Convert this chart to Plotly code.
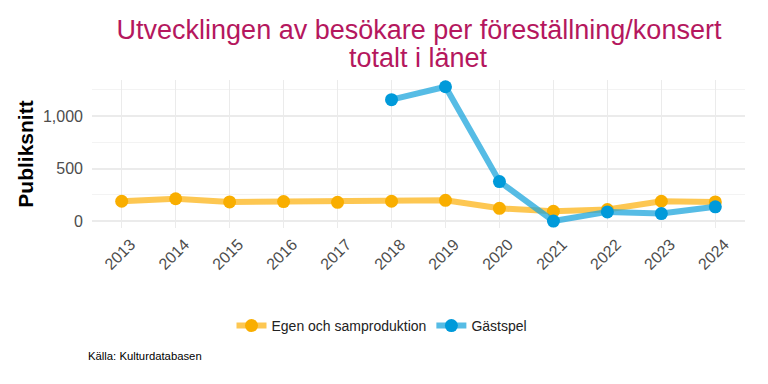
import plotly.graph_objects as go

years = [2013, 2014, 2015, 2016, 2017, 2018, 2019, 2020, 2021, 2022, 2023, 2024]
egen = [190, 214, 184, 187, 180, 190, 199, 123, 95, 111, 190, 184]
gast_years = [2018, 2019, 2020, 2021, 2022, 2023, 2024]
gast = [1155, 1278, 377, 2, 89, 73, 137]

FONT = "Liberation Sans, Arial, sans-serif"
# page is offset by the default 8px body margin; plot area lies at fig x 84..737, y 72..220
L, R, T, B = 84, 737, 72, 220
W, H = R - L, B - T

fig = go.Figure()
fig.add_trace(go.Scatter(x=years, y=egen, mode="lines+markers", name="Egen och samproduktion",
                         line=dict(color="rgba(253,185,39,0.8)", width=6),
                         marker=dict(color="#F9AE00", size=13)))
fig.add_trace(go.Scatter(x=gast_years, y=gast, mode="lines+markers", name="Gästspel",
                         line=dict(color="rgba(30,166,220,0.75)", width=6),
                         marker=dict(color="#009ADA", size=13)))

fig.update_layout(
    width=768, height=384,
    paper_bgcolor="white", plot_bgcolor="white",
    margin=dict(l=L, r=768 - R, t=T, b=384 - B, autoexpand=False),
    font=dict(family=FONT, color="#222"),
    title=dict(text="Utvecklingen av besökare per föreställning/konsert",
               x=411 / 768, xanchor="center", xref="container",
               y=1 - 21.5 / 384, yanchor="middle", yref="container",
               font=dict(size=27, color="#B5175E", family=FONT)),
    xaxis=dict(range=[2012.45, 2024.55], tickmode="array", tickvals=years,
               ticktext=[str(y) for y in years], tickangle=-45,
               showgrid=True, gridcolor="#EBEBEB", gridwidth=1, zeroline=False,
               tickfont=dict(size=16, color="#4D4D4D"), ticks="",
               ticklabelshift=9, ticklabelstandoff=3),
    yaxis=dict(range=[-64, 1342], tickvals=[0, 500, 1000], ticktext=["0", "500", "1,000"],
               showgrid=True, gridcolor="#EBEBEB", gridwidth=1.5, zeroline=False,
               minor=dict(tickvals=[250, 750, 1250], showgrid=True, gridcolor="#F3F3F3", gridwidth=1),
               tickfont=dict(size=16, color="#4D4D4D"), ticks="", ticklabelstandoff=8,
               title=dict(text="<b>Publiksnitt</b>", font=dict(size=21, color="black"), standoff=3)),
    legend=dict(orientation="h", x=374 / 768, xanchor="center", xref="container",
                y=1 - 318 / 384, yanchor="middle", yref="container",
                font=dict(size=14, color="#222"), itemwidth=30),
    showlegend=True,
)
fig.add_annotation(text="totalt i länet", xref="paper", yref="paper",
                   x=(411 - L) / W, y=(B - 49.5) / H, xanchor="center", yanchor="middle",
                   showarrow=False, font=dict(size=27, color="#B5175E", family=FONT))
fig.add_annotation(text="Källa: Kulturdatabasen", xref="paper", yref="paper",
                   x=(78 - L) / W, y=(B - 348) / H, xanchor="left", yanchor="middle",
                   showarrow=False, font=dict(size=11.3, color="black", family=FONT))
fig.write_html("out.html")
